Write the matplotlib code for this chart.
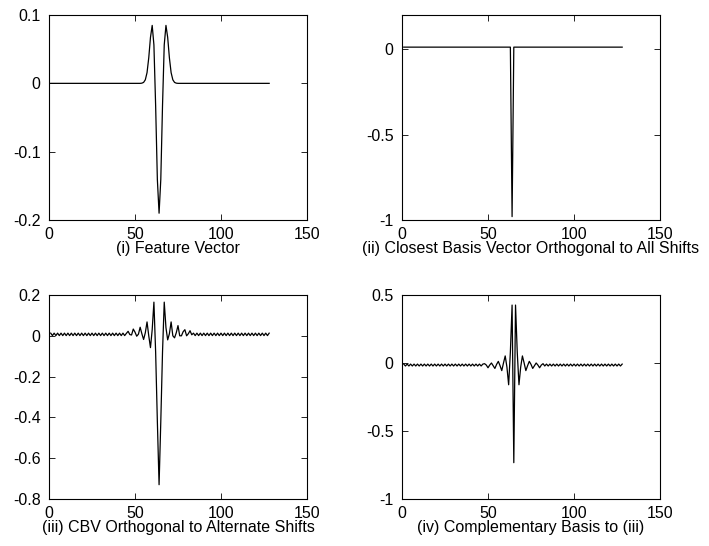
#!/usr/bin/env python3
# -*- coding: utf-8 -*-

import numpy as np
import matplotlib
matplotlib.use('Agg')
import matplotlib.pyplot as plt
from matplotlib.ticker import FormatStrFormatter

# sample index 1..128
n = np.arange(1, 129)

# (i) feature vector
feature = [0.0] * 53 + [
    0.0003, 0.0014, 0.0052, 0.0157, 0.0374, 0.0673, 0.0848, 0.0562, -0.0326, -0.1406,
    -0.19,
    -0.1406, -0.0326, 0.0562, 0.0848, 0.0673, 0.0374, 0.0157, 0.0052, 0.0014, 0.0003,
] + [0.0] * 54

# (ii) closest basis vector orthogonal to all shifts
closest = [0.012] * 63 + [-0.98] + [0.012] * 64

# (iii) CBV orthogonal to alternate shifts
cbv = [0.013, 0.001] * 22 + [
    0.012, 0.022, 0.006, 0.004, 0.033, 0.018, -0.002, 0.008, 0.042, 0.01,
    -0.018, 0.015, 0.068, 0.0, -0.058, 0.03, 0.165, -0.08, -0.42,
    -0.73,
    -0.42, -0.08, 0.165, 0.04, -0.02, 0.01, 0.068, 0.0, -0.01, 0.015,
    0.05, 0.0, 0.0, 0.02, 0.03, 0.0, 0.01, 0.025, 0.005,
] + [0.013, 0.001] * 22 + [0.013]

# (iv) complementary basis to (iii)
compl = [-0.008, -0.022] * 23 + [-0.008] + [
    -0.005, -0.015, -0.035, -0.015, 0.0, -0.02, -0.04, -0.01, 0.012, -0.02,
    -0.056, 0.0, 0.052, -0.03, -0.16, 0.08, 0.426,
    -0.733,
    0.426, 0.08, -0.16, -0.03, 0.052, 0.0, -0.056, -0.02, 0.012, -0.01,
    -0.04, -0.02, 0.0, -0.015, -0.035, -0.015, -0.005,
] + [-0.022, -0.008] * 23

titles = ['(i) Feature Vector',
          '(ii) Closest Basis Vector Orthogonal to All Shifts',
          '(iii) CBV Orthogonal to Alternate Shifts',
          '(iv) Complementary Basis to (iii)']
series = [feature, closest, cbv, compl]
ylims = [(-0.2, 0.1), (-1, 0.2), (-0.8, 0.2), (-1, 0.5)]
yticks = [[-0.2, -0.1, 0, 0.1], [-1, -0.5, 0], [-0.8, -0.6, -0.4, -0.2, 0, 0.2], [-1, -0.5, 0, 0.5]]

plt.rcParams['font.family'] = ['Liberation Sans', 'DejaVu Sans']
plt.rcParams['font.size'] = 11.5
plt.rcParams['axes.unicode_minus'] = False

fig = plt.figure(figsize=(7.09, 5.46), dpi=100)
boxes = [[0.0691, 0.597, 0.3639, 0.3755],
         [0.567, 0.597, 0.3639, 0.3755],
         [0.0691, 0.0861, 0.3639, 0.3736],
         [0.567, 0.0861, 0.3639, 0.3736]]

for box, y, title, yl, yt in zip(boxes, series, titles, ylims, yticks):
    ax = fig.add_axes(box)
    ax.plot(n, y, color='black', lw=0.9)
    ax.set_xlim(0, 150)
    ax.set_ylim(*yl)
    ax.set_xticks([0, 50, 100, 150])
    ax.set_yticks(yt)
    ax.yaxis.set_major_formatter(FormatStrFormatter('%g'))
    ax.tick_params(direction='in', top=True, right=True, length=4, width=0.6)
    ax.tick_params(axis='x', pad=5)
    ax.tick_params(axis='y', pad=6)
    for s in ax.spines.values():
        s.set_linewidth(0.8)
    ax.set_xlabel(title, labelpad=-1)

fig.savefig('out.png', dpi=100)
